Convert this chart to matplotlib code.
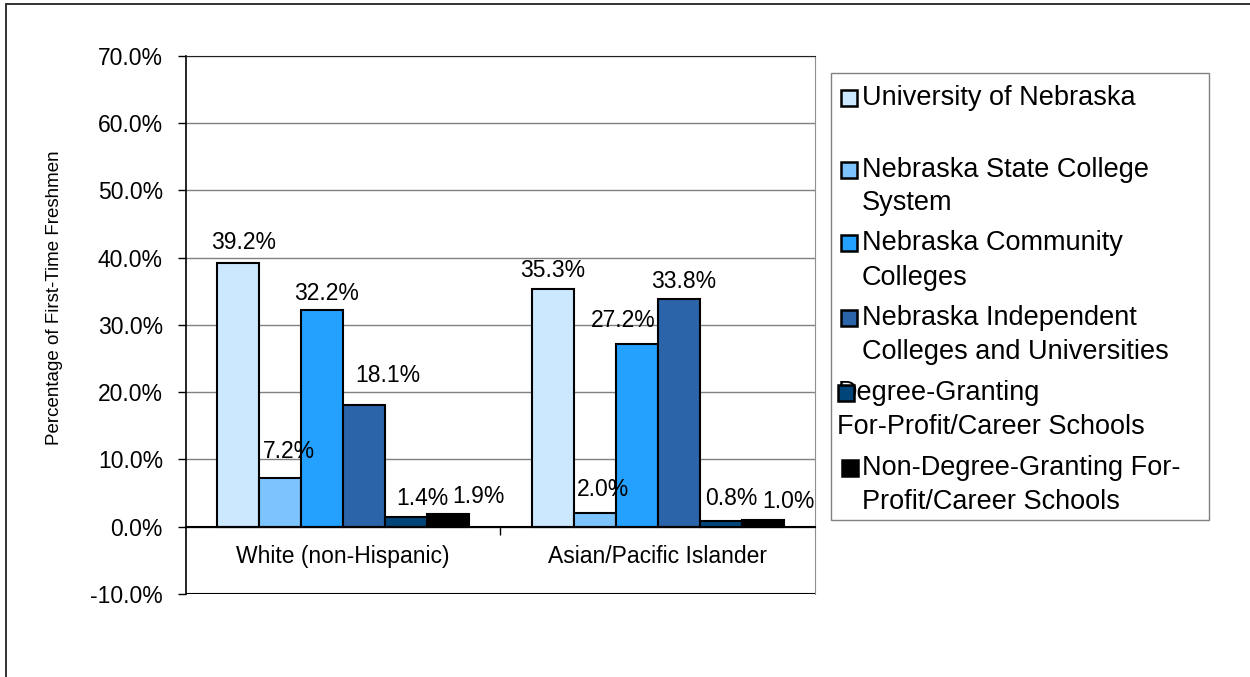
import numpy as np
import matplotlib
matplotlib.use("Agg")
from matplotlib import pyplot as plt
from matplotlib.patches import Rectangle

plt.rcParams['font.family'] = ['Liberation Sans', 'DejaVu Sans']

# data
categories = ["White (non-Hispanic)", "Asian/Pacific Islander"]
series = ["University of Nebraska",
          "Nebraska State College System",
          "Nebraska Community Colleges",
          "Nebraska Independent Colleges and Universities",
          "Degree-Granting For-Profit/Career Schools",
          "Non-Degree-Granting For-Profit/Career Schools"]
univ = [39.2, 35.3]
state_college = [7.2, 2.0]
community = [32.2, 27.2]
independent = [18.1, 33.8]
degree_fp = [1.4, 0.8]
nondegree_fp = [1.9, 1.0]
values = [univ, state_college, community, independent, degree_fp, nondegree_fp]
yticks = [-10, 0, 10, 20, 30, 40, 50, 60, 70]

# legend lines as wrapped in the original
legend_lines = [["University of Nebraska"],
                ["Nebraska State College", "System"],
                ["Nebraska Community", "Colleges"],
                ["Nebraska Independent", "Colleges and Universities"],
                ["Degree-Granting", "For-Profit/Career Schools"],
                ["Non-Degree-Granting For-", "Profit/Career Schools"]]

colors = ['#CCE8FF', '#7DC4FF', '#24A0FF', '#2C64AA', '#00457A', '#000000']

# label nudges in pixels (dx, dy above bar top), per series per category
label_off = [[(5, 20), (0, 19)],
             [(9, 27), (8, 24)],
             [(4, 17), (-14, 23)],
             [(24, 29), (5, 18)],
             [(16, 19), (11, 23)],
             [(30, 17), (26, 18)]]

W, H = 1250, 677
def fx(x):
    return x / W
def fy(y):
    return 1 - y / H

fig = plt.figure(figsize=(12.5, 6.77), dpi=100)
# outer chart border
fig.patches.append(Rectangle((fx(6), fy(700)), fx(1300), fy(4) - fy(700),
                             transform=fig.transFigure, fill=False,
                             edgecolor='#222222', lw=1.3))

ax = fig.add_axes([fx(186), fy(594), fx(815 - 186), fy(55.7) - fy(594)])

x = np.arange(len(categories))
w = 1 / 7.5
for j, vals in enumerate(values):
    bars = ax.bar(x + (j - 2.5) * w, vals, width=w, color=colors[j],
                  edgecolor='black', linewidth=1.5, zorder=3)
    for i, b in enumerate(bars):
        dx, dy = label_off[j][i]
        ax.annotate("%.1f%%" % vals[i], (b.get_x() + w / 2, vals[i]),
                    xytext=(dx, dy), textcoords='offset pixels',
                    ha='center', va='center', fontsize=16.5, zorder=4)

ax.set_xlim(-0.5, 1.5)
ax.set_ylim(-10, 70)
ax.set_yticks(yticks)
ax.set_yticklabels(["%.1f%%" % t for t in yticks])
ax.yaxis.grid(True, color='#808080', lw=1, zorder=0)
ax.tick_params(axis='y', direction='out', length=5.8, width=1, pad=10.8,
               labelsize=16.5)

# horizontal axis sits at zero
ax.spines['bottom'].set_position(('data', 0))
ax.spines['bottom'].set_linewidth(1.5)
ax.spines['bottom'].set_zorder(5)
ax.set_xticks([0.5])
ax.set_xticklabels([""])
ax.tick_params(axis='x', direction='out', length=6, width=1)
ax.axhline(-10, color='black', lw=1.5, zorder=5)
ax.spines['left'].set_linewidth(1.2)
ax.spines['top'].set_color('#222222')
ax.spines['right'].set_color('#909090')

for i, c in enumerate(categories):
    ax.annotate(c, (x[i], 0), xytext=(0, -30), textcoords='offset pixels',
                ha='center', va='center', fontsize=16.5)

fig.text(fx(55), fy(298), "Percentage of First-Time Freshmen", rotation=90,
         ha='center', va='center', fontsize=13.5)

# legend box, drawn by hand to keep the original wrapping
fig.patches.append(Rectangle((fx(831), fy(520)), fx(1209 - 831), fy(73) - fy(520),
                             transform=fig.transFigure, fill=False,
                             edgecolor='#808080', lw=1))
line_y = [[98], [170, 203], [243, 278], [318, 352], [393, 427], [468, 502]]
text_x = [862, 862, 862, 862, 838, 862]
wrap_x = [862, 862, 862, 862, 837, 862]
mark_x = [841, 841, 841, 841, 838, 842]
for j, lines in enumerate(legend_lines):
    for k, s in enumerate(lines):
        tx = text_x[j] if k == 0 else wrap_x[j]
        fig.text(fx(tx), fy(line_y[j][k]), s, ha='left', va='center',
                 fontsize=19.5)
    y0 = line_y[j][0]
    ec = 'black' if j < 5 else colors[j]
    fig.patches.append(Rectangle((fx(mark_x[j]), fy(y0 + 8)), fx(16), fy(y0 - 8) - fy(y0 + 8),
                                 transform=fig.transFigure, facecolor=colors[j],
                                 edgecolor=ec, lw=1.8, zorder=5))

fig.savefig("out.png", dpi=100)
